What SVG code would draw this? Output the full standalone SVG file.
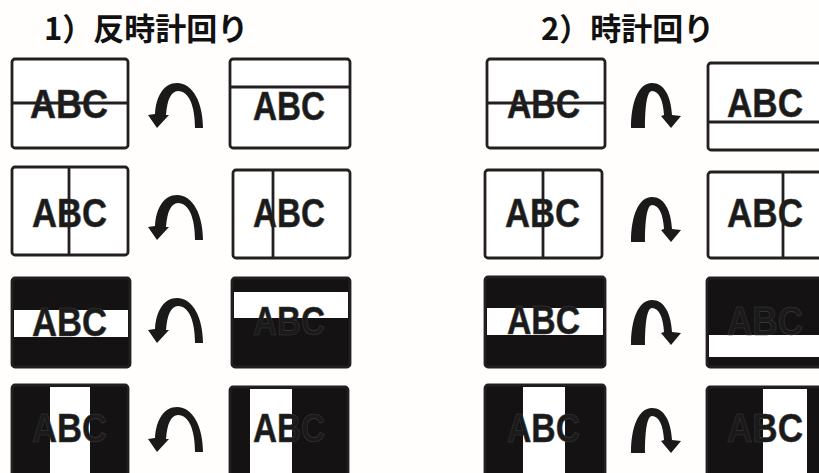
<svg xmlns="http://www.w3.org/2000/svg" xmlns:xlink="http://www.w3.org/1999/xlink" width="819" height="473" viewBox="0 0 819 473">
<style>
.bg{fill:#fffefc}
.box{fill:#fff;stroke:#231f20;stroke-width:2.8}
.dark{fill:#141213;stroke:#231f20;stroke-width:2.8}
.band{fill:#fff}
.ln{stroke:#231f20;stroke-width:2.8;fill:none}
.abc{font-family:"Liberation Sans",Arial,sans-serif;font-weight:bold;font-size:41px;fill:#1a1a1a;stroke:#3c3c3c;stroke-width:0.6}
.title{font-family:"Noto Sans CJK JP","Noto Sans CJK SC",sans-serif;font-weight:bold;font-size:31px;fill:#111}
.arr{fill:#1a1a1a}
</style>
<defs>
<path id="ccw" class="arr" d="M56 50 C56 25 46 5 30 5 C17 5 9 18 8 36 L1 37 L10 50 L22 37 L19 37 C20 22 24 13 31 13 C42 13 48 28 48 50 Z"/>
<path id="cw" class="arr" d="M6 50 C6 25 13 5 27 5 C39 5 46 18 47 37 L56 38 L46 50 L36 38 L39 37 C38 22 34 13 27 13 C22 13 20 28 20 50 Z"/>
</defs>
<rect class="bg" x="0" y="0" width="819" height="473"/>

<g id="titles">
<text class="title" x="44" y="40">1）反時計回り</text>
<text class="title" x="541" y="40">2）時計回り</text>
</g>

<!-- Left column: counter-clockwise -->
<g id="L1a">
<rect class="box" x="12" y="59" width="116" height="89" rx="3"/>
<text class="abc" x="30" y="118" textLength="78" lengthAdjust="spacingAndGlyphs">ABC</text>
<line class="ln" x1="12" y1="103" x2="128" y2="103"/>
</g>
<g id="L1b">
<rect class="box" x="230" y="59" width="120" height="89" rx="3"/>
<text class="abc" x="253" y="120" textLength="72" lengthAdjust="spacingAndGlyphs">ABC</text>
<line class="ln" x1="230" y1="87" x2="350" y2="87"/>
</g>
<g id="L2a">
<rect class="box" x="12" y="167" width="116" height="88" rx="3"/>
<text class="abc" x="32" y="227" textLength="75" lengthAdjust="spacingAndGlyphs">ABC</text>
<line class="ln" x1="69" y1="167" x2="69" y2="255"/>
</g>
<g id="L2b">
<rect class="box" x="233" y="170" width="117" height="88" rx="3"/>
<text class="abc" x="253" y="227" textLength="72" lengthAdjust="spacingAndGlyphs">ABC</text>
<line class="ln" x1="273" y1="170" x2="273" y2="258"/>
</g>
<g id="L3a">
<rect class="dark" x="12" y="278" width="118" height="89" rx="3"/>
<rect class="band" x="14" y="310" width="114" height="27"/>
<text class="abc" x="32" y="336" textLength="75" lengthAdjust="spacingAndGlyphs">ABC</text>
</g>
<g id="L3b">
<rect class="dark" x="232" y="278" width="118" height="89" rx="3"/>
<rect class="band" x="234" y="292" width="114" height="26"/>
<text class="abc" x="253" y="335" textLength="72" lengthAdjust="spacingAndGlyphs">ABC</text>
</g>
<g id="L4a">
<rect class="dark" x="12" y="385" width="116" height="95" rx="3"/>
<rect class="band" x="50" y="387" width="40" height="90"/>
<text class="abc" x="32" y="442" textLength="75" lengthAdjust="spacingAndGlyphs">ABC</text>
</g>
<g id="L4b">
<rect class="dark" x="230" y="387" width="118" height="95" rx="3"/>
<rect class="band" x="250" y="389" width="42" height="90"/>
<text class="abc" x="253" y="442" textLength="72" lengthAdjust="spacingAndGlyphs">ABC</text>
</g>

<!-- Right column: clockwise -->
<g id="R1a">
<rect class="box" x="487" y="59" width="118" height="89" rx="3"/>
<text class="abc" x="507" y="118" textLength="73" lengthAdjust="spacingAndGlyphs">ABC</text>
<line class="ln" x1="487" y1="103" x2="605" y2="103"/>
</g>
<g id="R1b">
<rect class="box" x="708" y="63" width="130" height="87" rx="3"/>
<text class="abc" x="727" y="117" textLength="76" lengthAdjust="spacingAndGlyphs">ABC</text>
<line class="ln" x1="708" y1="122" x2="838" y2="122"/>
</g>
<g id="R2a">
<rect class="box" x="485" y="170" width="117" height="88" rx="3"/>
<text class="abc" x="505" y="227" textLength="75" lengthAdjust="spacingAndGlyphs">ABC</text>
<line class="ln" x1="543" y1="170" x2="543" y2="258"/>
</g>
<g id="R2b">
<rect class="box" x="708" y="172" width="130" height="86" rx="3"/>
<text class="abc" x="727" y="227" textLength="76" lengthAdjust="spacingAndGlyphs">ABC</text>
<line class="ln" x1="783" y1="172" x2="783" y2="258"/>
</g>
<g id="R3a">
<rect class="dark" x="485" y="277" width="120" height="90" rx="3"/>
<rect class="band" x="487" y="308" width="116" height="27"/>
<text class="abc" x="507" y="334" textLength="73" lengthAdjust="spacingAndGlyphs">ABC</text>
</g>
<g id="R3b">
<rect class="dark" x="707" y="278" width="130" height="89" rx="3"/>
<rect class="band" x="709" y="335" width="128" height="22"/>
<text class="abc" x="727" y="335" textLength="76" lengthAdjust="spacingAndGlyphs">ABC</text>
</g>
<g id="R4a">
<rect class="dark" x="485" y="385" width="120" height="95" rx="3"/>
<rect class="band" x="523" y="387" width="42" height="90"/>
<text class="abc" x="507" y="442" textLength="73" lengthAdjust="spacingAndGlyphs">ABC</text>
</g>
<g id="R4b">
<rect class="dark" x="707" y="387" width="130" height="95" rx="3"/>
<rect class="band" x="763" y="389" width="44" height="90"/>
<text class="abc" x="727" y="442" textLength="76" lengthAdjust="spacingAndGlyphs">ABC</text>
</g>

<g id="connectors">
<use xlink:href="#ccw" href="#ccw" transform="translate(147,78)"/>
<use xlink:href="#ccw" href="#ccw" transform="translate(147,190)"/>
<use xlink:href="#ccw" href="#ccw" transform="translate(147,293)"/>
<use xlink:href="#ccw" href="#ccw" transform="translate(147,402)"/>
<use xlink:href="#cw" href="#cw" transform="translate(625,78)"/>
<use xlink:href="#cw" href="#cw" transform="translate(625,192)"/>
<use xlink:href="#cw" href="#cw" transform="translate(625,295)"/>
<use xlink:href="#cw" href="#cw" transform="translate(625,403)"/>
</g>
</svg>
